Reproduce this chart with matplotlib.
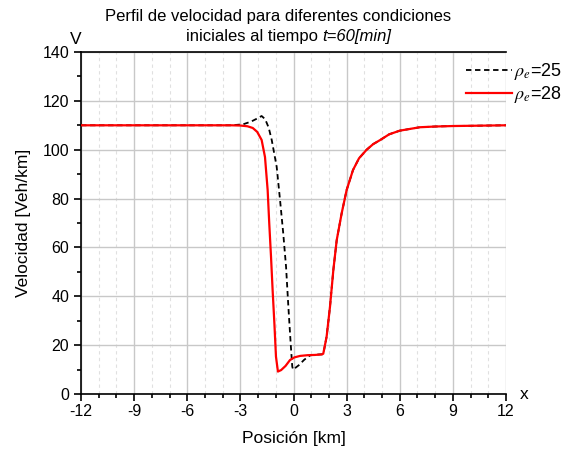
import numpy as np
import matplotlib
matplotlib.use('Agg')
import matplotlib.pyplot as plt
from matplotlib.ticker import MultipleLocator

plt.rcParams['font.family'] = ['Liberation Sans', 'DejaVu Sans']
plt.rcParams['mathtext.fontset'] = 'stix'
plt.rcParams['axes.unicode_minus'] = False

# ==========================================
# datos
# ==========================================
x_25 = [-12, -6, -3.5, -2.85, -2.4, -2.1, -1.8, -1.6, -1.4, -1.23, -0.95, -0.76,
        -0.58, -0.42, -0.29, -0.16, -0.07, -0.02, 0.3, 0.6, 0.93, 1.2, 1.45, 1.68,
        1.87, 2.06, 2.25, 2.44, 2.72, 3.0, 3.36, 3.7, 4.13, 4.5, 4.9, 5.4, 6.0,
        7.13, 8.0, 9.0, 12]
v_25 = [110, 110, 110, 110.4, 111.5, 112.6, 113.8, 112.5, 109, 104, 93, 79.4,
        65.8, 52, 35.7, 20.7, 11.2, 10.0, 11.8, 14.0, 15.8, 16.1, 16.2, 16.3,
        23.5, 35.7, 50.8, 63, 74, 83.5, 91.7, 96.5, 100, 102.3, 104, 106.3, 107.8,
        109.2, 109.5, 109.7, 110]

x_28 = [-12, -6, -3.5, -3.0, -2.6, -2.3, -2.05, -1.8, -1.61, -1.46, -1.37, -1.27,
        -1.18, -1.08, -0.99, -0.88, -0.7, -0.45, -0.2, 0.05, 0.37, 0.8, 1.2, 1.59,
        1.68, 1.87, 2.06, 2.25, 2.44, 2.72, 3.0, 3.36, 3.7, 4.13, 4.5, 4.9, 5.4,
        6.0, 7.13, 8.0, 9.0, 12]
v_28 = [110, 110, 110, 109.9, 109.6, 108.9, 107.3, 104, 97, 83.5, 69.9, 56.2,
        42.6, 28.9, 15.3, 9.2, 9.8, 11.5, 13.9, 15.0, 15.6, 15.9, 16.0, 16.2,
        16.5, 23.5, 35.7, 50.8, 63, 74, 83.5, 91.7, 96.5, 100, 102.3, 104, 106.3,
        107.8, 109.2, 109.5, 109.7, 110]

fig = plt.figure(figsize=(5.64, 4.55), dpi=100)
ax = fig.add_axes([0.1436, 0.134, 0.7536, 0.7517])

ax.plot(x_25, v_25, color='black', ls=(0, (3, 2)), lw=1.3, label=r'$\rho_e$=25', zorder=3)
ax.plot(x_28, v_28, color='red', lw=1.6, label=r'$\rho_e$=28', zorder=4)

ax.set_xlim(-12, 12)
ax.set_ylim(0, 140)
ax.xaxis.set_major_locator(MultipleLocator(3))
ax.xaxis.set_minor_locator(MultipleLocator(1))
ax.yaxis.set_major_locator(MultipleLocator(20))
ax.yaxis.set_minor_locator(MultipleLocator(10))

ax.grid(which='major', color='#c8c8c8', lw=1, ls='-')
ax.grid(which='minor', axis='x', color='#e0e0e0', lw=0.8, ls=(0, (3, 3)))
ax.set_axisbelow(True)

ax.spines['right'].set_visible(False)
for s in ['left', 'bottom', 'top']:
    ax.spines[s].set_linewidth(1.2)
ax.tick_params(which='major', direction='out', length=5, width=1.2, labelsize=11.5)
ax.tick_params(which='minor', direction='out', length=3, width=1.2)
ax.tick_params(axis='x', pad=2)

ax.set_xlabel('Posición [km]', fontsize=12.5, labelpad=9)
ax.set_ylabel('Velocidad [Veh/km]', fontsize=12.5, labelpad=8)
ax.text(-12.3, 142, 'V', fontsize=12.5, ha='center', va='bottom')
ax.text(13.0, 0, 'x', fontsize=12.5, ha='center', va='center')

# titulo en dos lineas, la segunda con parte en cursiva
TITLE_FS = 12
fig.text(278 / 564, 1 - 17 / 455, 'Perfil de velocidad para diferentes condiciones',
         fontsize=TITLE_FS, ha='center', va='center')
t_a = fig.text(186 / 564, 1 - 37 / 455, 'iniciales al tiempo ', fontsize=TITLE_FS,
               ha='left', va='center')
r = fig.canvas.get_renderer()
wa = t_a.get_window_extent(r).width / fig.bbox.width
fig.text(186 / 564 + wa, 1 - 37 / 455, 't=60[min]', fontsize=TITLE_FS,
         ha='left', va='center', style='italic')

leg = ax.legend(loc='upper left', bbox_to_anchor=(0.875, 1.01), frameon=False,
                fontsize=13, handlelength=2.6, handletextpad=0.1, labelspacing=0.1,
                borderaxespad=0.3)

plt.savefig('out.png', dpi=100)
